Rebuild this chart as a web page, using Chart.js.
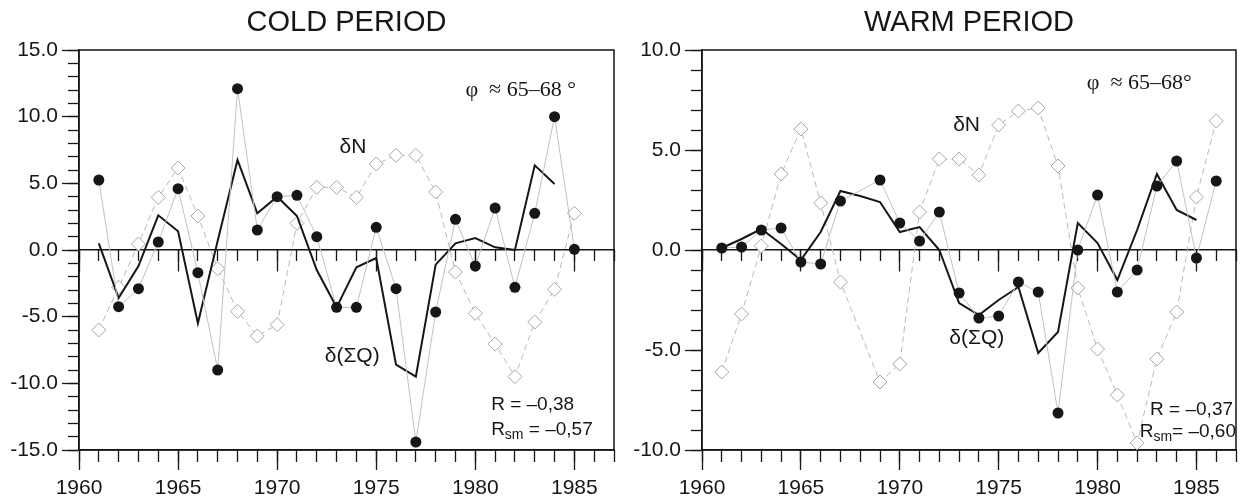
<!DOCTYPE html>
<html>
<head>
<meta charset="utf-8">
<script src="https://cdn.jsdelivr.net/npm/chart.js@4.4.1/dist/chart.umd.min.js"></script>
<style>
  html, body { margin: 0; padding: 0; background: #fff; }
  #wrap { position: relative; width: 1244px; height: 499px; overflow: hidden; }
  canvas { position: absolute; top: 0; }
  #cold { left: 0; }
  #warm { left: 622px; }
</style>
</head>
<body>
<div id="wrap">
  <canvas id="cold" width="622" height="499"></canvas>
  <canvas id="warm" width="622" height="499"></canvas>
</div>
<script>
// Datos
const coldYears = [1961,1962,1963,1964,1965,1966,1967,1968,1969,1970,1971,1972,1973,
                   1974,1975,1976,1977,1978,1979,1980,1981,1982,1983,1984,1985];
const coldQ  = [5.25,-4.25,-2.9,0.6,4.6,-1.7,-9.0,12.1,1.5,4.0,4.1,1.0,-4.3,
                -4.3,1.7,-2.9,-14.4,-4.65,2.3,-1.2,3.15,-2.8,2.75,10.0,0.05];
const coldN  = [-6.0,-2.8,0.45,3.95,6.15,2.55,-1.4,-4.6,-6.45,-5.6,2.0,4.7,4.7,
                3.95,6.45,7.1,7.1,4.35,-1.65,-4.75,-7.05,-9.5,-5.4,-2.95,2.75];
const coldSm = [0.5,-3.6,-1.2,2.6,1.4,-5.5,0.7,6.75,2.75,4.0,2.55,-1.5,-4.3,
                -1.3,-0.6,-8.6,-9.5,-1.1,0.5,0.9,0.2,0.0,6.35,4.95,null];

const warmYears = [1961,1962,1963,1964,1965,1966,1967,1968,1969,1970,1971,1972,1973,
                   1974,1975,1976,1977,1978,1979,1980,1981,1982,1983,1984,1985,1986];
const warmQ  = [0.1,0.15,1.0,1.1,-0.6,-0.7,2.45,null,3.5,1.35,0.45,1.9,-2.15,
                -3.4,-3.3,-1.6,-2.1,-8.15,0.0,2.75,-2.1,-1.0,3.2,4.45,-0.4,3.45];
const warmN  = [-6.1,-3.2,0.2,3.8,6.05,2.35,-1.6,null,-6.6,-5.7,1.9,4.55,4.55,
                3.75,6.25,6.95,7.1,4.2,-1.9,-4.95,-7.25,-9.65,-5.45,-3.1,2.65,6.45];
const warmSm = [0.1,0.55,1.05,0.3,-0.5,0.9,2.95,2.7,2.4,0.9,1.15,0.0,-2.65,
                -3.25,-2.5,-1.85,-5.15,-4.1,1.35,0.35,-1.5,1.0,3.8,2.0,1.5,null];

// Marcas de los ejes
const xTickLabels = [1960,1965,1970,1975,1980,1985];
const coldYTicks  = [-15,-10,-5,0,5,10,15];
const warmYTicks  = [-10,-5,0,5,10];

const INK = '#161616';
const SANS = '"Liberation Sans", Arial, sans-serif';
const SERIF = '"Liberation Serif", "Times New Roman", serif';

const pts = (years, vals) => years.map((yr, i) => ({ x: yr, y: vals[i] }));

// Marco completo alrededor del área de la gráfica
const framePlugin = {
  id: 'frame',
  beforeDatasetsDraw(chart) {
    const { ctx, chartArea: a } = chart;
    ctx.save();
    ctx.strokeStyle = INK;
    ctx.lineWidth = 1.5;
    ctx.strokeRect(a.left, a.top, a.right - a.left, a.bottom - a.top);
    ctx.restore();
  }
};

// Textos dentro de la gráfica, ubicados en unidades de datos
const notesPlugin = {
  id: 'notes',
  afterDatasetsDraw(chart, args, opts) {
    const { ctx, scales } = chart;
    (opts.items || []).forEach(n => {
      const px = scales.x.getPixelForValue(n.x);
      const py = scales.y.getPixelForValue(n.y);
      ctx.save();
      ctx.fillStyle = INK;
      ctx.textBaseline = 'middle';
      const widths = n.parts.map(p => {
        ctx.font = p.sub ? n.subFont : n.font;
        return ctx.measureText(p.text).width;
      });
      const total = widths.reduce((s, w) => s + w, 0);
      let cx = n.align === 'right' ? px - total : px;
      n.parts.forEach((p, i) => {
        ctx.font = p.sub ? n.subFont : n.font;
        ctx.fillText(p.text, cx, py + (p.sub ? 5 : 0));
        cx += widths[i];
      });
      ctx.restore();
    });
  }
};

function makeChart(id, title, yMin, yMax, yTicks, years, q, n, sm, notes, yWidth) {
  const majorX = c => (c.tick && xTickLabels.includes(c.tick.value)) ? INK : 'rgba(0,0,0,0)';
  const majorY = c => (c.tick && yTicks.includes(c.tick.value)) ? INK : 'rgba(0,0,0,0)';
  const xBase = { type: 'linear', min: 1960, max: 1987 };
  const minorX = (pos, len) => ({
    ...xBase, axis: 'x', position: pos,
    ticks: { stepSize: 1, autoSkip: false, display: false },
    grid: { drawOnChartArea: false, tickLength: len, tickColor: INK, tickWidth: 1.3 },
    border: { display: false }
  });

  return new Chart(document.getElementById(id), {
    type: 'line',
    data: {
      datasets: [
        { data: pts(years, q), xAxisID: 'x', yAxisID: 'y', order: 0,
          borderColor: '#c2c2c2', borderWidth: 1, spanGaps: true,
          pointRadius: 5.5, pointBackgroundColor: INK, pointBorderWidth: 0 },
        { data: pts(years, sm), xAxisID: 'x', yAxisID: 'y', order: 1,
          borderColor: INK, borderWidth: 2, pointRadius: 0, spanGaps: false },
        { data: pts(years, n), xAxisID: 'x', yAxisID: 'y', order: 2,
          borderColor: '#b8b8b8', borderWidth: 1, borderDash: [6, 4], spanGaps: true,
          pointStyle: 'rectRot', pointRadius: 7, pointBackgroundColor: '#fff',
          pointBorderColor: '#a6a6a6', pointBorderWidth: 1 }
      ]
    },
    options: {
      responsive: false,
      animation: false,
      layout: { padding: { left: 0, right: 1, top: 0, bottom: 0 } },
      plugins: {
        legend: { display: false },
        tooltip: { enabled: false },
        title: {
          display: true, text: title, fullSize: false, color: INK,
          font: { family: SANS, size: 29, weight: 'normal', lineHeight: 1.2 },
          padding: { top: 6, bottom: 9.2 }
        },
        notes: { items: notes }
      },
      scales: {
        x: {
          ...xBase, position: 'bottom',
          ticks: { stepSize: 1, autoSkip: false, maxRotation: 0, padding: 6, color: INK,
                   font: { family: SANS, size: 21 },
                   callback: v => xTickLabels.includes(v) ? String(v) : '' },
          grid: { drawOnChartArea: false, tickLength: 20, tickColor: majorX, tickWidth: 1.3 },
          border: { display: true, color: INK, width: 1.5 },
          afterFit: s => { s.height = 49; }
        },
        xMinor: minorX({ y: yMin }, 12),
        xZero: {
          ...xBase, axis: 'x', position: { y: 0 },
          ticks: { stepSize: 1, autoSkip: false, display: false },
          grid: { drawOnChartArea: false, tickLength: 21, tickColor: majorX, tickWidth: 1.3 },
          border: { display: true, color: INK, width: 1.5 }
        },
        xZeroMinor: minorX({ y: 0 }, 11),
        y: {
          type: 'linear', position: 'left', min: yMin, max: yMax,
          ticks: { stepSize: 1, autoSkip: false, padding: 4, color: INK,
                   font: { family: SANS, size: 21 },
                   callback: v => yTicks.includes(v) ? v.toFixed(1) : '' },
          grid: { drawOnChartArea: false, tickLength: 17, tickColor: majorY, tickWidth: 1.3 },
          border: { display: true, color: INK, width: 1.5 },
          afterFit: s => { s.width = yWidth; }
        },
        yMinor: {
          type: 'linear', axis: 'y', position: { x: 1960 }, min: yMin, max: yMax,
          ticks: { stepSize: 1, autoSkip: false, display: false },
          grid: { drawOnChartArea: false, tickLength: 11, tickColor: INK, tickWidth: 1.3 },
          border: { display: false }
        }
      }
    },
    plugins: [framePlugin, notesPlugin]
  });
}

const noteFont = `21px ${SANS}`;
const phiFont = `22px ${SERIF}`;
const rFont = `19px ${SANS}`;
const subFont = `14px ${SANS}`;

makeChart('cold', 'COLD PERIOD', -15, 15, coldYTicks, coldYears, coldQ, coldN, coldSm, [
  { x: 1979.5, y: 12.0, font: phiFont, parts: [{ text: 'φ  ≈ 65–68 °' }] },
  { x: 1973.15, y: 7.7, font: noteFont, parts: [{ text: 'δN' }] },
  { x: 1972.4, y: -8.0, font: noteFont, parts: [{ text: 'δ(ΣQ)' }] },
  { x: 1980.8, y: -11.6, font: rFont, parts: [{ text: 'R = –0,38' }] },
  { x: 1980.8, y: -13.5, font: rFont, subFont, parts: [{ text: 'R' }, { text: 'sm', sub: true }, { text: ' = –0,57' }] }
], 79);

makeChart('warm', 'WARM PERIOD', -10, 10, warmYTicks, warmYears, warmQ, warmN, warmSm, [
  { x: 1979.45, y: 8.35, font: phiFont, parts: [{ text: 'φ  ≈ 65–68°' }] },
  { x: 1972.7, y: 6.25, font: noteFont, parts: [{ text: 'δN' }] },
  { x: 1972.5, y: -4.4, font: noteFont, parts: [{ text: 'δ(ΣQ)' }] },
  { x: 1986.85, y: -8.0, align: 'right', font: rFont, parts: [{ text: 'R = –0,37' }] },
  { x: 1987.0, y: -9.1, align: 'right', font: rFont, subFont, parts: [{ text: 'R' }, { text: 'sm', sub: true }, { text: '= –0,60' }] }
], 80);
</script>
</body>
</html>
